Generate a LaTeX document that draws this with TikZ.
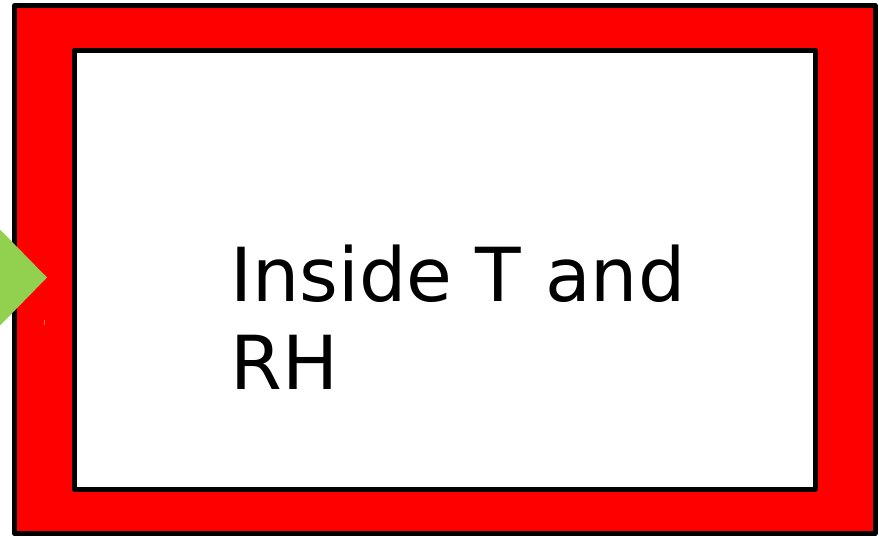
\documentclass[tikz,border=0pt]{standalone}
\usepackage{fontspec}
\setmainfont{DejaVu Sans}
\usetikzlibrary{shapes.geometric}
\definecolor{boxred}{RGB}{255,0,0}
\definecolor{arrowgreen}{RGB}{146,208,80}

\begin{document}
\begin{tikzpicture}[x=1pt, y=-1pt]
        \tikzstyle{every node}=[inner sep=0pt, outer sep=0pt]
        \tikzstyle{frame}=[rectangle, draw=black, line width=5pt, line join=round]
        \useasboundingbox (0,0) rectangle (879,536);
        \node [frame, fill=boxred, minimum width=860.5pt, minimum height=528pt] (outer) at (444.75,269.5) {};
        \node [frame, fill=white, minimum width=740.5pt, minimum height=438.5pt] (inner) at (444.75,269.75) {};
        \node [diamond, fill=arrowgreen, minimum width=94pt, minimum height=96pt] (port) at (0,277.5) {};
        \draw [orange!70!brown, line width=1pt] (44.5,319.5) -- (44.5,324.5);
        \node [anchor=base west, align=left, font=\fontsize{74.5}{88}\selectfont] (label) at (230.5,389.7) {Inside T and\\RH};
    \end{tikzpicture}
\end{document}
